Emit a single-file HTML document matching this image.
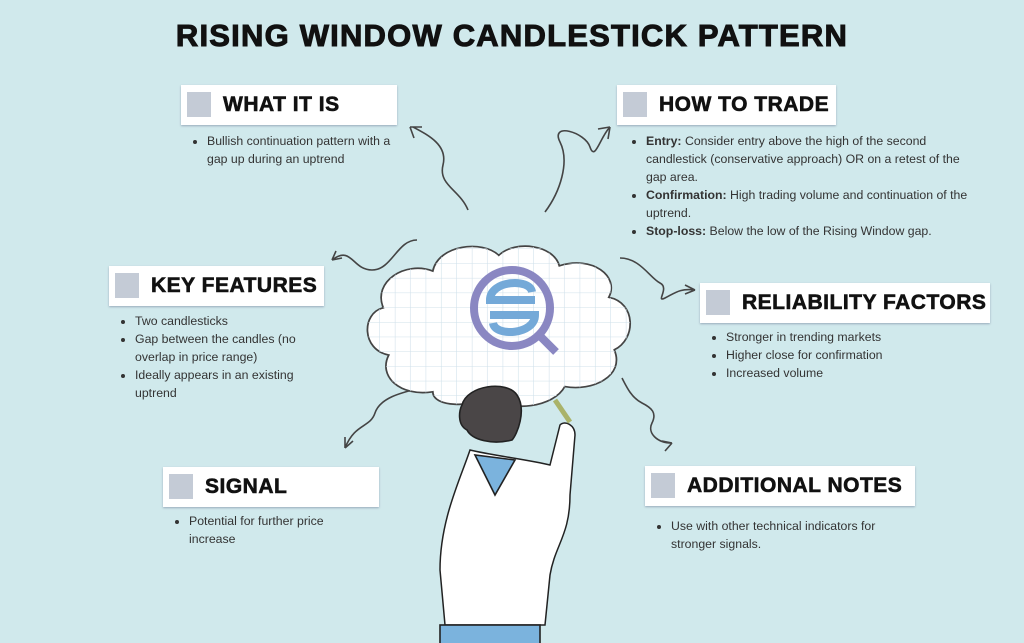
<!DOCTYPE html>
<html><head><meta charset="utf-8"><style>
body{margin:0;width:1024px;height:643px;overflow:hidden;background:#d0e9ec;position:relative;font-family:"Liberation Sans",sans-serif;}
.t{position:absolute;left:0;width:1024px;top:18px;text-align:center;font-weight:900;font-size:31px;letter-spacing:1.2px;color:#111;-webkit-text-stroke:1px #111;}
.h{position:absolute;background:#fff;height:40px;box-shadow:0 1px 2px #9ab;}
.h i{position:absolute;left:6px;top:7px;width:24px;height:25px;background:#c4cbd6;}
.h b{position:absolute;left:42px;top:8px;font-size:21px;letter-spacing:.5px;color:#111;-webkit-text-stroke:.6px #111;white-space:nowrap;}
ul{position:absolute;margin:0;padding-left:16px;font-size:12.3px;line-height:18px;color:#333;}
ul li{margin:0}
</style></head><body>
<div class="t">RISING WINDOW CANDLESTICK PATTERN</div>
<div class="h" style="left:181px;top:85px;width:216px"><i></i><b>WHAT IT IS</b></div>
<div class="h" style="left:617px;top:85px;width:219px"><i></i><b>HOW TO TRADE</b></div>
<div class="h" style="left:109px;top:266px;width:215px"><i></i><b>KEY FEATURES</b></div>
<div class="h" style="left:700px;top:283px;width:290px"><i></i><b>RELIABILITY FACTORS</b></div>
<div class="h" style="left:163px;top:467px;width:216px"><i></i><b>SIGNAL</b></div>
<div class="h" style="left:645px;top:466px;width:270px"><i></i><b>ADDITIONAL NOTES</b></div>
<ul style="left:191px;top:132px;width:185px"><li>Bullish continuation pattern with a gap up during an uptrend</li></ul>
<ul style="left:630px;top:132px;width:325px"><li><b>Entry:</b> Consider entry above the high of the second candlestick (conservative approach) OR on a retest of the gap area.</li><li><b>Confirmation:</b> High trading volume and continuation of the uptrend.</li><li><b>Stop-loss:</b> Below the low of the Rising Window gap.</li></ul>
<ul style="left:119px;top:312px;width:185px"><li>Two candlesticks</li><li>Gap between the candles (no overlap in price range)</li><li>Ideally appears in an existing uptrend</li></ul>
<ul style="left:710px;top:328px;width:260px"><li>Stronger in trending markets</li><li>Higher close for confirmation</li><li>Increased volume</li></ul>
<ul style="left:173px;top:512px;width:160px"><li>Potential for further price increase</li></ul>
<ul style="left:655px;top:517px;width:230px"><li>Use with other technical indicators for stronger signals.</li></ul>
<svg width="1024" height="643" style="position:absolute;left:0;top:0" fill="none" stroke="#444" stroke-width="1.6">
<defs><pattern id="g" width="14" height="14" patternUnits="userSpaceOnUse"><path d="M14 0V14H0" stroke="#cfe0ea" stroke-width="1"/></pattern></defs>
<path d="M468 210c-8-20-30-25-25-45s-15-30-30-38M410 127l12 0M410 127l4 11"/>
<path d="M545 212c15-20 25-50 15-70s25-10 30 5 10-10 20-20M610 127l-12 2M610 127l-2 12"/>
<path d="M417 240c-20 0-25 30-45 30s-20-25-40-10M332 260l10-2M332 260l4-9"/>
<path d="M620 258c20 0 30 20 40 25s-5 20 5 15 15-10 30-8M695 290l-10-5M695 290l-10 4"/>
<path d="M420 388c-20 5-40 10-45 25s-20 10-30 35M345 448l0-11M345 448l8-7"/>
<path d="M622 378c5 10 10 20 20 25s15 10 10 20 5 20 20 20M672 443l-10-2M672 443l-7 8"/>
<g transform="translate(512 312) scale(1.1 1.05) translate(-512 -312)">
<path d="M440 388c-30 5-50-15-40-35c-25-5-25-40-5-45c-10-25 20-45 45-35c5-25 45-30 60-15c15-15 50-10 55 10c30-10 55 10 45 30c25 5 25 40 5 50c10 25-20 40-45 35c-10 20-50 25-65 10c-20 10-55 10-55-5z" fill="#fff"/>
<path d="M440 388c-30 5-50-15-40-35c-25-5-25-40-5-45c-10-25 20-45 45-35c5-25 45-30 60-15c15-15 50-10 55 10c30-10 55 10 45 30c25 5 25 40 5 50c10 25-20 40-45 35c-10 20-50 25-65 10c-20 10-55 10-55-5z" fill="url(#g)" stroke="none"/>
</g>
<circle cx="512" cy="308" r="38" stroke="#8a87c2" stroke-width="8"/>
<path d="M538 334l18 18" stroke="#8a87c2" stroke-width="8"/>
<path d="M535 300h-45c0-20 40-22 42-8M490 315h45c0 20-40 22-42 8" stroke="#74a9d8" stroke-width="8"/>
<path d="M470 450c-10 30-30 70-30 120l5 55h100l5-50c5-30 20-40 20-80l5-60c0-10-10-15-15-10l-10 40c-20-5-60-10-80-15z" fill="#fff" stroke="#222" stroke-width="1.5"/>
<path d="M475 455l20 40 20-35z" fill="#7bb3dd" stroke="#222"/>
<rect x="440" y="625" width="100" height="20" fill="#7bb3dd" stroke="#222"/>
<path d="M462 405c5-20 45-25 55-10 10 15 0 40-5 45-20 5-40 0-45-10-10-5-8-20-5-25z" fill="#4a4647" stroke="#222"/>
<path d="M555 400l15 22" stroke="#aab36a" stroke-width="5"/>
</svg>
</body></html>
